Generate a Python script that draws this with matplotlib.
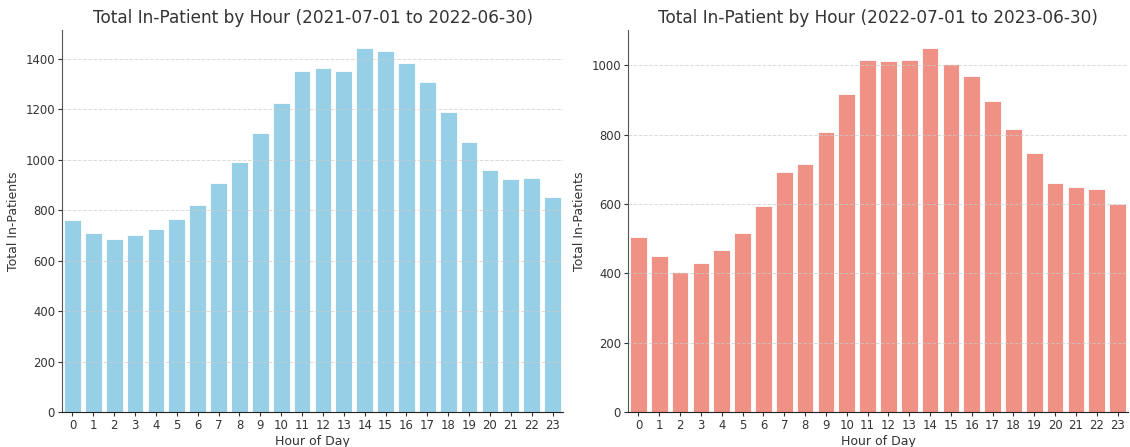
import matplotlib
matplotlib.use("Agg")
import matplotlib.pyplot as plt

hours = list(range(24))
hour_labels = [str(h) for h in hours]

patients_2021_22 = [762, 709, 686, 702, 726, 766, 821, 907, 989, 1107, 1225, 1350,
                    1362, 1351, 1441, 1429, 1383, 1306, 1187, 1069, 958, 922, 928, 852]
patients_2022_23 = [505, 450, 403, 429, 468, 516, 595, 693, 714, 806, 917, 1015,
                    1013, 1015, 1049, 1003, 970, 898, 815, 748, 661, 649, 642, 601]

titles = ["Total In-Patient by Hour (2021-07-01 to 2022-06-30)",
          "Total In-Patient by Hour (2022-07-01 to 2023-06-30)"]
colors = ["#97CFE6", "#EF9184"]

plt.rcParams["font.family"] = "DejaVu Sans"
plt.rcParams["text.color"] = "#333333"
plt.rcParams["axes.labelcolor"] = "#333333"
plt.rcParams["xtick.color"] = "#333333"
plt.rcParams["ytick.color"] = "#333333"

fig = plt.figure(figsize=(11.3, 4.47), dpi=100)
ax1 = fig.add_axes([0.0549, 0.0783, 0.4433, 0.8546])
ax2 = fig.add_axes([0.5558, 0.0783, 0.4424, 0.8546])

for ax, values, title, color in zip([ax1, ax2],
                                    [patients_2021_22, patients_2022_23],
                                    titles, colors):
    ax.bar(hours, values, width=0.8, color=color, edgecolor="white", linewidth=0.6)
    ax.set_title(title, fontsize=12.2, color="#333333", pad=5)
    ax.set_xlabel("Hour of Day", fontsize=9, labelpad=2)
    ax.set_ylabel("Total In-Patients", fontsize=9, labelpad=4)
    ax.set_xticks(hours)
    ax.set_xticklabels(hour_labels)
    ax.tick_params(axis="both", labelsize=8.4, length=3, pad=2)
    ax.grid(axis="y", linestyle="--", alpha=0.7, color="#cccccc", linewidth=0.7)
    ax.spines["top"].set_visible(False)
    ax.spines["right"].set_visible(False)
    ax.spines["left"].set_color("#555555")
    ax.spines["bottom"].set_color("#222222")
    ax.set_xlim(-0.5, 23.5)
    ax.set_ylim(0, max(values) * 1.05)

fig.savefig("out.png", dpi=100)
